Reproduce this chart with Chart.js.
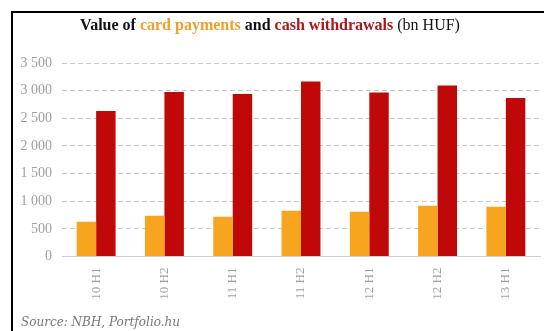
<!DOCTYPE html>
<html>
<head>
<meta charset="utf-8">
<script src="https://cdn.jsdelivr.net/npm/chart.js@4/dist/chart.umd.min.js"></script>
<style>
  html, body { margin: 0; padding: 0; background: #fff; overflow: hidden; }
  #wrap { position: relative; width: 544px; height: 331px; }
  #frame {
    position: absolute; left: 11px; top: 11px; width: 600px; height: 400px;
    border: 2px solid #000; box-sizing: border-box;
  }
  #title {
    position: absolute; left: 0; top: 16px; width: 540px; text-align: center;
    font: bold 16px "Liberation Serif", serif; color: #111;
  }
  #title .card { color: #EFA02A; }
  #title .cash { color: #A8171B; }
  #title .unit { font-weight: normal; }
  #source {
    position: absolute; left: 21px; top: 315px;
    font: italic 12px "DejaVu Serif", serif; color: #777;
  }
  canvas { position: absolute; left: 0; top: 0; }
</style>
</head>
<body>
<div id="wrap">
  <div id="frame"></div>
  <canvas id="chart" width="544" height="331"></canvas>
  <div id="title">Value of <span class="card">card payments</span> and <span class="cash">cash withdrawals</span> <span class="unit">(bn HUF)</span></div>
  <div id="source">Source: NBH, Portfolio.hu</div>
</div>
<script>
// данные диаграммы
const periods = ['10 H1', '10 H2', '11 H1', '11 H2', '12 H1', '12 H2', '13 H1'];
const cardPayments = [628, 737, 719, 827, 809, 917, 899];
const cashWithdrawals = [2633, 2976, 2940, 3164, 2965, 3092, 2868];
const yTicks = [0, 500, 1000, 1500, 2000, 2500, 3000, 3500];

const chart = new Chart(document.getElementById('chart'), {
  type: 'bar',
  data: {
    labels: periods,
    datasets: [
      {
        label: 'card payments',
        data: cardPayments,
        backgroundColor: '#F7A51E',
        barPercentage: 1,
        categoryPercentage: 0.57,
      },
      {
        label: 'cash withdrawals',
        data: cashWithdrawals,
        backgroundColor: '#C00808',
        barPercentage: 1,
        categoryPercentage: 0.57,
      },
    ],
  },
  options: {
    responsive: false,
    animation: false,
    layout: { padding: { top: 63, right: 4, left: 0, bottom: 0 } },
    plugins: {
      legend: { display: false },
      tooltip: { enabled: false },
    },
    scales: {
      x: {
        grid: { display: false },
        border: { color: '#cfcfcf', width: 1 },
        ticks: {
          color: '#a0a0a0',
          font: { family: 'Liberation Serif', size: 13 },
          minRotation: 90,
          maxRotation: 90,
          padding: 3,
        },
        afterFit(scale) { scale.height = 74.5; },
      },
      y: {
        min: 0,
        max: 3500,
        afterBuildTicks(scale) { scale.ticks = yTicks.map((v) => ({ value: v })); },
        afterFit(scale) { scale.width = 62; },
        border: { display: false, dash: [5, 3] },
        grid: {
          color: (ctx) => (ctx.tick && ctx.tick.value === 0 ? 'rgba(0,0,0,0)' : '#c9c9c9'),
          drawTicks: false,
        },
        ticks: {
          color: '#a0a0a0',
          font: { family: 'Liberation Serif', size: 14 },
          padding: 10,
          callback: (v) => (v >= 1000 ? `${Math.floor(v / 1000)} ${String(v % 1000).padStart(3, '0')}` : `${v}`),
        },
      },
    },
  },
});
</script>
</body>
</html>
